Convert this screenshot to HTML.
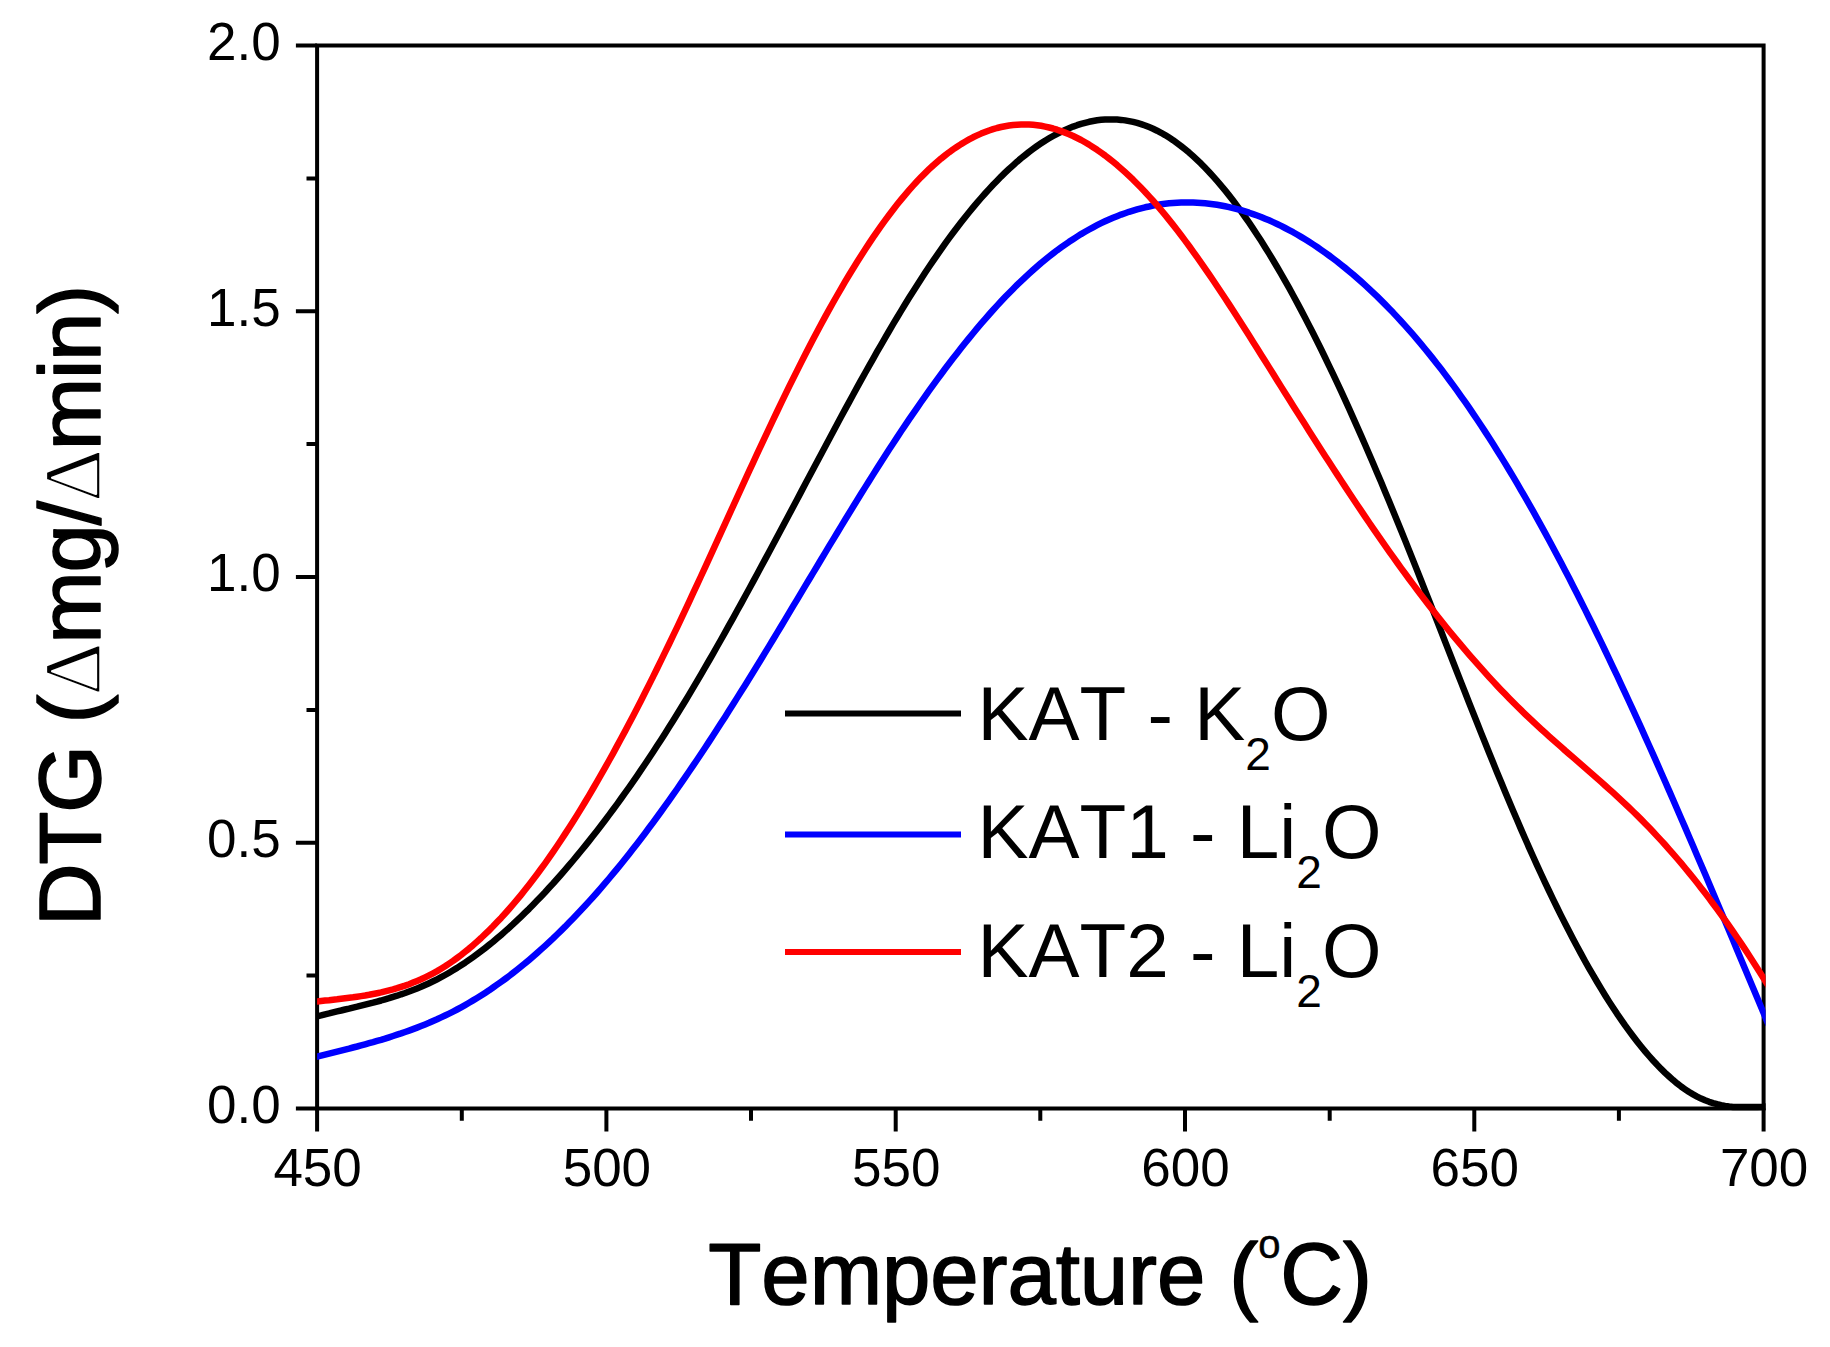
<!DOCTYPE html>
<html lang="en"><head><meta charset="utf-8"><title>DTG vs Temperature</title>
<style>html,body{margin:0;padding:0;background:#fff}body{width:1830px;height:1347px;overflow:hidden}svg{display:block;shape-rendering:geometricPrecision}</style>
</head><body>
<svg width="1830" height="1347" viewBox="0 0 1830 1347">
<rect width="1830" height="1347" fill="#fff"/>
<path d="M317.1 1108.5 V1131.6 M461.8 1108.5 V1120.7 M606.4 1108.5 V1131.6 M751.0 1108.5 V1120.7 M895.7 1108.5 V1131.6 M1040.3 1108.5 V1120.7 M1185.0 1108.5 V1131.6 M1329.7 1108.5 V1120.7 M1474.3 1108.5 V1131.6 M1618.9 1108.5 V1120.7 M1763.6 1108.5 V1131.6 M317.1 1108.5 H295.9 M317.1 975.6 H306.5 M317.1 842.8 H295.9 M317.1 709.9 H306.5 M317.1 577.0 H295.9 M317.1 444.1 H306.5 M317.1 311.2 H295.9 M317.1 178.4 H306.5 M317.1 45.5 H295.9" stroke="#000" stroke-width="4.0" fill="none"/>
<rect x="317.1" y="45.5" width="1446.5" height="1063.0" fill="none" stroke="#000" stroke-width="4.0"/>
<clipPath id="plotclip"><rect x="317.1" y="0" width="1448.5" height="1347"/></clipPath>
<g clip-path="url(#plotclip)">
<path d="M312.1 1017.7 L317.1 1016.4 L321.1 1015.4 L325.1 1014.3 L329.1 1013.4 L333.1 1012.4 L337.1 1011.4 L341.1 1010.5 L345.1 1009.5 L349.1 1008.6 L353.1 1007.6 L357.1 1006.7 L361.1 1005.7 L365.1 1004.7 L369.1 1003.7 L373.1 1002.7 L377.1 1001.6 L381.1 1000.5 L385.1 999.3 L389.1 998.2 L393.1 996.9 L397.1 995.7 L401.1 994.3 L405.1 993.0 L409.1 991.5 L413.1 990.0 L417.1 988.4 L421.1 986.8 L425.1 985.0 L429.1 983.2 L433.1 981.3 L437.1 979.3 L441.1 977.2 L445.1 975.0 L449.1 972.7 L453.1 970.3 L457.1 967.9 L461.1 965.3 L465.1 962.7 L469.1 959.9 L473.1 957.1 L477.1 954.2 L481.1 951.2 L485.1 948.1 L489.1 944.9 L493.1 941.7 L497.1 938.3 L501.1 934.9 L505.1 931.4 L509.1 927.8 L513.1 924.2 L517.1 920.4 L521.1 916.6 L525.1 912.7 L529.1 908.8 L533.1 904.7 L537.1 900.6 L541.1 896.4 L545.1 892.2 L549.1 887.8 L553.1 883.5 L557.1 879.0 L561.1 874.5 L565.1 869.9 L569.1 865.2 L573.1 860.5 L577.1 855.7 L581.1 850.8 L585.1 845.9 L589.1 840.9 L593.1 835.8 L597.1 830.7 L601.1 825.5 L605.1 820.2 L609.1 814.9 L613.1 809.5 L617.1 804.1 L621.1 798.5 L625.1 792.9 L629.1 787.3 L633.1 781.6 L637.1 775.8 L641.1 769.9 L645.1 764.0 L649.1 758.0 L653.1 752.0 L657.1 745.8 L661.1 739.7 L665.1 733.4 L669.1 727.1 L673.1 720.7 L677.1 714.3 L681.1 707.8 L685.1 701.2 L689.1 694.6 L693.1 687.9 L697.1 681.1 L701.1 674.3 L705.1 667.4 L709.1 660.5 L713.1 653.6 L717.1 646.5 L721.1 639.5 L725.1 632.4 L729.1 625.2 L733.1 618.1 L737.1 610.8 L741.1 603.6 L745.1 596.3 L749.1 589.0 L753.1 581.6 L757.1 574.2 L761.1 566.8 L765.1 559.4 L769.1 552.0 L773.1 544.5 L777.1 537.0 L781.1 529.5 L785.1 522.0 L789.1 514.5 L793.1 507.0 L797.1 499.4 L801.1 491.9 L805.1 484.3 L809.1 476.8 L813.1 469.2 L817.1 461.7 L821.1 454.2 L825.1 446.7 L829.1 439.2 L833.1 431.7 L837.1 424.2 L841.1 416.8 L845.1 409.4 L849.1 402.1 L853.1 394.7 L857.1 387.4 L861.1 380.2 L865.1 373.0 L869.1 365.9 L873.1 358.8 L877.1 351.7 L881.1 344.8 L885.1 337.8 L889.1 331.0 L893.1 324.2 L897.1 317.5 L901.1 310.9 L905.1 304.3 L909.1 297.8 L913.1 291.5 L917.1 285.2 L921.1 279.0 L925.1 272.8 L929.1 266.8 L933.1 260.9 L937.1 255.1 L941.1 249.4 L945.1 243.7 L949.1 238.2 L953.1 232.8 L957.1 227.5 L961.1 222.3 L965.1 217.2 L969.1 212.3 L973.1 207.4 L977.1 202.7 L981.1 198.0 L985.1 193.5 L989.1 189.1 L993.1 184.8 L997.1 180.7 L1001.1 176.6 L1005.1 172.7 L1009.1 168.9 L1013.1 165.3 L1017.1 161.7 L1021.1 158.3 L1025.1 155.1 L1029.1 151.9 L1033.1 148.9 L1037.1 146.0 L1041.1 143.3 L1045.1 140.7 L1049.1 138.3 L1053.1 136.0 L1057.1 133.8 L1061.1 131.8 L1065.1 129.9 L1069.1 128.2 L1073.1 126.6 L1077.1 125.2 L1081.1 123.9 L1085.1 122.8 L1089.1 121.8 L1093.1 121.0 L1097.1 120.3 L1101.1 119.8 L1105.1 119.5 L1109.1 119.4 L1113.1 119.4 L1117.1 119.5 L1121.1 119.9 L1125.1 120.4 L1129.1 121.1 L1133.1 121.9 L1137.1 122.9 L1141.1 124.1 L1145.1 125.5 L1149.1 127.1 L1153.1 128.8 L1157.1 130.7 L1161.1 132.8 L1165.1 135.1 L1169.1 137.6 L1173.1 140.2 L1177.1 143.1 L1181.1 146.1 L1185.1 149.3 L1189.1 152.6 L1193.1 156.2 L1197.1 159.9 L1201.1 163.7 L1205.1 167.8 L1209.1 172.0 L1213.1 176.4 L1217.1 180.9 L1221.1 185.6 L1225.1 190.4 L1229.1 195.4 L1233.1 200.6 L1237.1 205.9 L1241.1 211.4 L1245.1 217.0 L1249.1 222.7 L1253.1 228.6 L1257.1 234.7 L1261.1 240.8 L1265.1 247.2 L1269.1 253.6 L1273.1 260.2 L1277.1 267.0 L1281.1 273.8 L1285.1 280.8 L1289.1 287.9 L1293.1 295.2 L1297.1 302.6 L1301.1 310.1 L1305.1 317.7 L1309.1 325.4 L1313.1 333.3 L1317.1 341.2 L1321.1 349.3 L1325.1 357.5 L1329.1 365.8 L1333.1 374.2 L1337.1 382.6 L1341.1 391.2 L1345.1 399.9 L1349.1 408.7 L1353.1 417.6 L1357.1 426.6 L1361.1 435.6 L1365.1 444.7 L1369.1 454.0 L1373.1 463.3 L1377.1 472.7 L1381.1 482.1 L1385.1 491.7 L1389.1 501.3 L1393.1 511.0 L1397.1 520.7 L1401.1 530.5 L1405.1 540.4 L1409.1 550.4 L1413.1 560.4 L1417.1 570.4 L1421.1 580.5 L1425.1 590.6 L1429.1 600.8 L1433.1 610.9 L1437.1 621.1 L1441.1 631.3 L1445.1 641.6 L1449.1 651.8 L1453.1 662.0 L1457.1 672.2 L1461.1 682.4 L1465.1 692.5 L1469.1 702.7 L1473.1 712.8 L1477.1 722.8 L1481.1 732.9 L1485.1 742.8 L1489.1 752.8 L1493.1 762.6 L1497.1 772.4 L1501.1 782.1 L1505.1 791.7 L1509.1 801.3 L1513.1 810.7 L1517.1 820.1 L1521.1 829.4 L1525.1 838.5 L1529.1 847.6 L1533.1 856.5 L1537.1 865.3 L1541.1 874.0 L1545.1 882.6 L1549.1 891.0 L1553.1 899.3 L1557.1 907.5 L1561.1 915.6 L1565.1 923.5 L1569.1 931.3 L1573.1 939.0 L1577.1 946.5 L1581.1 953.9 L1585.1 961.2 L1589.1 968.3 L1593.1 975.2 L1597.1 982.0 L1601.1 988.7 L1605.1 995.2 L1609.1 1001.6 L1613.1 1007.7 L1617.1 1013.8 L1621.1 1019.6 L1625.1 1025.4 L1629.1 1030.9 L1633.1 1036.3 L1637.1 1041.5 L1641.1 1046.5 L1645.1 1051.3 L1649.1 1056.0 L1653.1 1060.5 L1657.1 1064.8 L1661.1 1068.9 L1665.1 1072.8 L1669.1 1076.5 L1673.1 1080.1 L1677.1 1083.4 L1681.1 1086.5 L1685.1 1089.3 L1689.1 1092.0 L1693.1 1094.4 L1697.1 1096.6 L1701.1 1098.6 L1705.1 1100.3 L1709.1 1101.8 L1713.1 1103.1 L1717.1 1104.2 L1721.1 1105.2 L1725.1 1105.9 L1729.1 1106.5 L1733.1 1106.9 L1737.1 1107.0 L1741.1 1107.0 L1745.1 1107.0 L1749.1 1107.0 L1753.1 1107.0 L1757.1 1107.0 L1763.6 1106.8 L1768.6 1106.4" fill="none" stroke="#000" stroke-width="6.5" stroke-linejoin="round"/>
<path d="M312.1 1057.8 L317.1 1056.6 L321.1 1055.6 L325.1 1054.6 L329.1 1053.6 L333.1 1052.6 L337.1 1051.6 L341.1 1050.6 L345.1 1049.6 L349.1 1048.6 L353.1 1047.5 L357.1 1046.5 L361.1 1045.4 L365.1 1044.3 L369.1 1043.2 L373.1 1042.1 L377.1 1040.9 L381.1 1039.8 L385.1 1038.6 L389.1 1037.3 L393.1 1036.0 L397.1 1034.7 L401.1 1033.4 L405.1 1032.0 L409.1 1030.6 L413.1 1029.1 L417.1 1027.6 L421.1 1026.0 L425.1 1024.4 L429.1 1022.8 L433.1 1021.0 L437.1 1019.3 L441.1 1017.4 L445.1 1015.5 L449.1 1013.6 L453.1 1011.6 L457.1 1009.5 L461.1 1007.3 L465.1 1005.1 L469.1 1002.8 L473.1 1000.4 L477.1 998.0 L481.1 995.5 L485.1 992.9 L489.1 990.3 L493.1 987.5 L497.1 984.7 L501.1 981.9 L505.1 979.0 L509.1 976.0 L513.1 972.9 L517.1 969.7 L521.1 966.5 L525.1 963.3 L529.1 959.9 L533.1 956.5 L537.1 953.0 L541.1 949.4 L545.1 945.8 L549.1 942.1 L553.1 938.4 L557.1 934.5 L561.1 930.6 L565.1 926.7 L569.1 922.6 L573.1 918.5 L577.1 914.3 L581.1 910.1 L585.1 905.8 L589.1 901.4 L593.1 897.0 L597.1 892.5 L601.1 887.9 L605.1 883.2 L609.1 878.5 L613.1 873.7 L617.1 868.9 L621.1 864.0 L625.1 859.0 L629.1 853.9 L633.1 848.8 L637.1 843.7 L641.1 838.5 L645.1 833.2 L649.1 827.8 L653.1 822.5 L657.1 817.0 L661.1 811.5 L665.1 805.9 L669.1 800.3 L673.1 794.7 L677.1 789.0 L681.1 783.2 L685.1 777.4 L689.1 771.5 L693.1 765.6 L697.1 759.7 L701.1 753.7 L705.1 747.7 L709.1 741.6 L713.1 735.5 L717.1 729.3 L721.1 723.1 L725.1 716.9 L729.1 710.6 L733.1 704.3 L737.1 697.9 L741.1 691.6 L745.1 685.2 L749.1 678.7 L753.1 672.2 L757.1 665.7 L761.1 659.2 L765.1 652.6 L769.1 646.1 L773.1 639.5 L777.1 632.8 L781.1 626.2 L785.1 619.6 L789.1 612.9 L793.1 606.2 L797.1 599.6 L801.1 592.9 L805.1 586.2 L809.1 579.5 L813.1 572.8 L817.1 566.2 L821.1 559.5 L825.1 552.9 L829.1 546.2 L833.1 539.6 L837.1 533.0 L841.1 526.4 L845.1 519.8 L849.1 513.3 L853.1 506.7 L857.1 500.3 L861.1 493.8 L865.1 487.4 L869.1 481.0 L873.1 474.6 L877.1 468.3 L881.1 462.0 L885.1 455.8 L889.1 449.6 L893.1 443.5 L897.1 437.4 L901.1 431.3 L905.1 425.4 L909.1 419.4 L913.1 413.6 L917.1 407.8 L921.1 402.0 L925.1 396.3 L929.1 390.7 L933.1 385.1 L937.1 379.6 L941.1 374.2 L945.1 368.8 L949.1 363.5 L953.1 358.3 L957.1 353.2 L961.1 348.1 L965.1 343.0 L969.1 338.1 L973.1 333.2 L977.1 328.4 L981.1 323.7 L985.1 319.1 L989.1 314.5 L993.1 310.0 L997.1 305.6 L1001.1 301.3 L1005.1 297.1 L1009.1 293.0 L1013.1 288.9 L1017.1 284.9 L1021.1 281.1 L1025.1 277.3 L1029.1 273.6 L1033.1 270.0 L1037.1 266.5 L1041.1 263.0 L1045.1 259.7 L1049.1 256.5 L1053.1 253.4 L1057.1 250.3 L1061.1 247.4 L1065.1 244.6 L1069.1 241.8 L1073.1 239.2 L1077.1 236.6 L1081.1 234.1 L1085.1 231.8 L1089.1 229.5 L1093.1 227.3 L1097.1 225.2 L1101.1 223.2 L1105.1 221.3 L1109.1 219.5 L1113.1 217.8 L1117.1 216.2 L1121.1 214.6 L1125.1 213.2 L1129.1 211.8 L1133.1 210.6 L1137.1 209.4 L1141.1 208.3 L1145.1 207.3 L1149.1 206.5 L1153.1 205.6 L1157.1 204.9 L1161.1 204.3 L1165.1 203.8 L1169.1 203.3 L1173.1 203.0 L1177.1 202.7 L1181.1 202.5 L1185.1 202.4 L1189.1 202.4 L1193.1 202.5 L1197.1 202.7 L1201.1 202.9 L1205.1 203.3 L1209.1 203.7 L1213.1 204.2 L1217.1 204.8 L1221.1 205.5 L1225.1 206.3 L1229.1 207.1 L1233.1 208.1 L1237.1 209.1 L1241.1 210.2 L1245.1 211.4 L1249.1 212.7 L1253.1 214.1 L1257.1 215.5 L1261.1 217.0 L1265.1 218.7 L1269.1 220.3 L1273.1 222.1 L1277.1 224.0 L1281.1 225.9 L1285.1 228.0 L1289.1 230.1 L1293.1 232.2 L1297.1 234.5 L1301.1 236.9 L1305.1 239.3 L1309.1 241.8 L1313.1 244.4 L1317.1 247.0 L1321.1 249.8 L1325.1 252.6 L1329.1 255.5 L1333.1 258.5 L1337.1 261.5 L1341.1 264.7 L1345.1 267.9 L1349.1 271.2 L1353.1 274.5 L1357.1 278.0 L1361.1 281.5 L1365.1 285.1 L1369.1 288.8 L1373.1 292.6 L1377.1 296.4 L1381.1 300.4 L1385.1 304.4 L1389.1 308.5 L1393.1 312.6 L1397.1 316.9 L1401.1 321.2 L1405.1 325.6 L1409.1 330.2 L1413.1 334.7 L1417.1 339.4 L1421.1 344.1 L1425.1 349.0 L1429.1 353.9 L1433.1 358.9 L1437.1 364.0 L1441.1 369.1 L1445.1 374.4 L1449.1 379.7 L1453.1 385.2 L1457.1 390.7 L1461.1 396.3 L1465.1 401.9 L1469.1 407.7 L1473.1 413.6 L1477.1 419.5 L1481.1 425.5 L1485.1 431.6 L1489.1 437.8 L1493.1 444.1 L1497.1 450.4 L1501.1 456.9 L1505.1 463.4 L1509.1 470.0 L1513.1 476.7 L1517.1 483.4 L1521.1 490.3 L1525.1 497.2 L1529.1 504.2 L1533.1 511.2 L1537.1 518.4 L1541.1 525.6 L1545.1 532.9 L1549.1 540.3 L1553.1 547.7 L1557.1 555.2 L1561.1 562.8 L1565.1 570.4 L1569.1 578.1 L1573.1 585.9 L1577.1 593.7 L1581.1 601.7 L1585.1 609.6 L1589.1 617.7 L1593.1 625.8 L1597.1 634.0 L1601.1 642.2 L1605.1 650.5 L1609.1 658.8 L1613.1 667.3 L1617.1 675.7 L1621.1 684.3 L1625.1 692.9 L1629.1 701.5 L1633.1 710.2 L1637.1 718.9 L1641.1 727.7 L1645.1 736.6 L1649.1 745.5 L1653.1 754.4 L1657.1 763.4 L1661.1 772.5 L1665.1 781.5 L1669.1 790.6 L1673.1 799.8 L1677.1 809.0 L1681.1 818.2 L1685.1 827.4 L1689.1 836.7 L1693.1 846.0 L1697.1 855.4 L1701.1 864.7 L1705.1 874.1 L1709.1 883.5 L1713.1 892.9 L1717.1 902.4 L1721.1 911.9 L1725.1 921.3 L1729.1 930.8 L1733.1 940.3 L1737.1 949.9 L1741.1 959.4 L1745.1 968.9 L1749.1 978.5 L1753.1 988.0 L1757.1 997.6 L1763.6 1013.1 L1768.6 1025.0" fill="none" stroke="#0000ff" stroke-width="6.5" stroke-linejoin="round"/>
<path d="M312.1 1002.0 L317.1 1001.5 L321.1 1001.0 L325.1 1000.6 L329.1 1000.2 L333.1 999.7 L337.1 999.3 L341.1 998.8 L345.1 998.3 L349.1 997.8 L353.1 997.3 L357.1 996.7 L361.1 996.1 L365.1 995.5 L369.1 994.8 L373.1 994.0 L377.1 993.2 L381.1 992.4 L385.1 991.4 L389.1 990.4 L393.1 989.4 L397.1 988.2 L401.1 986.9 L405.1 985.6 L409.1 984.2 L413.1 982.6 L417.1 981.0 L421.1 979.3 L425.1 977.4 L429.1 975.4 L433.1 973.3 L437.1 971.1 L441.1 968.7 L445.1 966.3 L449.1 963.6 L453.1 960.9 L457.1 958.0 L461.1 955.0 L465.1 951.8 L469.1 948.6 L473.1 945.2 L477.1 941.6 L481.1 938.0 L485.1 934.2 L489.1 930.3 L493.1 926.3 L497.1 922.1 L501.1 917.9 L505.1 913.5 L509.1 909.0 L513.1 904.4 L517.1 899.6 L521.1 894.8 L525.1 889.8 L529.1 884.7 L533.1 879.5 L537.1 874.2 L541.1 868.8 L545.1 863.3 L549.1 857.6 L553.1 851.8 L557.1 846.0 L561.1 840.0 L565.1 833.9 L569.1 827.7 L573.1 821.5 L577.1 815.1 L581.1 808.6 L585.1 802.0 L589.1 795.3 L593.1 788.5 L597.1 781.6 L601.1 774.7 L605.1 767.6 L609.1 760.5 L613.1 753.3 L617.1 745.9 L621.1 738.5 L625.1 731.1 L629.1 723.5 L633.1 715.9 L637.1 708.2 L641.1 700.4 L645.1 692.5 L649.1 684.6 L653.1 676.6 L657.1 668.5 L661.1 660.4 L665.1 652.2 L669.1 644.0 L673.1 635.7 L677.1 627.3 L681.1 618.8 L685.1 610.4 L689.1 601.8 L693.1 593.2 L697.1 584.6 L701.1 576.0 L705.1 567.3 L709.1 558.6 L713.1 549.9 L717.1 541.1 L721.1 532.4 L725.1 523.6 L729.1 514.8 L733.1 506.1 L737.1 497.3 L741.1 488.6 L745.1 479.9 L749.1 471.2 L753.1 462.6 L757.1 453.9 L761.1 445.3 L765.1 436.8 L769.1 428.3 L773.1 419.9 L777.1 411.5 L781.1 403.1 L785.1 394.9 L789.1 386.7 L793.1 378.6 L797.1 370.6 L801.1 362.6 L805.1 354.8 L809.1 347.0 L813.1 339.3 L817.1 331.8 L821.1 324.3 L825.1 316.9 L829.1 309.7 L833.1 302.5 L837.1 295.5 L841.1 288.6 L845.1 281.7 L849.1 275.0 L853.1 268.5 L857.1 262.0 L861.1 255.7 L865.1 249.5 L869.1 243.4 L873.1 237.4 L877.1 231.6 L881.1 225.9 L885.1 220.4 L889.1 215.0 L893.1 209.7 L897.1 204.6 L901.1 199.6 L905.1 194.8 L909.1 190.2 L913.1 185.7 L917.1 181.3 L921.1 177.1 L925.1 173.1 L929.1 169.2 L933.1 165.5 L937.1 162.0 L941.1 158.6 L945.1 155.4 L949.1 152.3 L953.1 149.4 L957.1 146.7 L961.1 144.1 L965.1 141.7 L969.1 139.4 L973.1 137.3 L977.1 135.4 L981.1 133.6 L985.1 132.0 L989.1 130.5 L993.1 129.2 L997.1 128.0 L1001.1 127.0 L1005.1 126.2 L1009.1 125.5 L1013.1 125.0 L1017.1 124.7 L1021.1 124.5 L1025.1 124.4 L1029.1 124.5 L1033.1 124.8 L1037.1 125.2 L1041.1 125.8 L1045.1 126.6 L1049.1 127.5 L1053.1 128.5 L1057.1 129.7 L1061.1 131.1 L1065.1 132.6 L1069.1 134.2 L1073.1 136.0 L1077.1 138.0 L1081.1 140.0 L1085.1 142.3 L1089.1 144.6 L1093.1 147.2 L1097.1 149.8 L1101.1 152.6 L1105.1 155.5 L1109.1 158.6 L1113.1 161.8 L1117.1 165.1 L1121.1 168.6 L1125.1 172.2 L1129.1 175.9 L1133.1 179.7 L1137.1 183.7 L1141.1 187.8 L1145.1 192.0 L1149.1 196.4 L1153.1 200.8 L1157.1 205.4 L1161.1 210.1 L1165.1 214.9 L1169.1 219.9 L1173.1 224.9 L1177.1 230.0 L1181.1 235.3 L1185.1 240.6 L1189.1 246.0 L1193.1 251.6 L1197.1 257.2 L1201.1 262.8 L1205.1 268.6 L1209.1 274.4 L1213.1 280.3 L1217.1 286.3 L1221.1 292.3 L1225.1 298.3 L1229.1 304.4 L1233.1 310.6 L1237.1 316.8 L1241.1 323.0 L1245.1 329.3 L1249.1 335.6 L1253.1 341.9 L1257.1 348.3 L1261.1 354.7 L1265.1 361.0 L1269.1 367.4 L1273.1 373.8 L1277.1 380.2 L1281.1 386.6 L1285.1 392.9 L1289.1 399.3 L1293.1 405.7 L1297.1 412.0 L1301.1 418.3 L1305.1 424.6 L1309.1 430.9 L1313.1 437.2 L1317.1 443.5 L1321.1 449.7 L1325.1 455.9 L1329.1 462.1 L1333.1 468.3 L1337.1 474.4 L1341.1 480.5 L1345.1 486.6 L1349.1 492.7 L1353.1 498.7 L1357.1 504.7 L1361.1 510.6 L1365.1 516.6 L1369.1 522.5 L1373.1 528.3 L1377.1 534.1 L1381.1 539.9 L1385.1 545.6 L1389.1 551.3 L1393.1 556.9 L1397.1 562.5 L1401.1 568.1 L1405.1 573.5 L1409.1 579.0 L1413.1 584.4 L1417.1 589.7 L1421.1 595.0 L1425.1 600.3 L1429.1 605.5 L1433.1 610.6 L1437.1 615.7 L1441.1 620.8 L1445.1 625.7 L1449.1 630.7 L1453.1 635.6 L1457.1 640.4 L1461.1 645.2 L1465.1 649.9 L1469.1 654.6 L1473.1 659.2 L1477.1 663.7 L1481.1 668.2 L1485.1 672.7 L1489.1 677.1 L1493.1 681.4 L1497.1 685.7 L1501.1 689.9 L1505.1 694.1 L1509.1 698.2 L1513.1 702.3 L1517.1 706.3 L1521.1 710.2 L1525.1 714.1 L1529.1 717.9 L1533.1 721.7 L1537.1 725.4 L1541.1 729.1 L1545.1 732.7 L1549.1 736.3 L1553.1 739.9 L1557.1 743.4 L1561.1 746.9 L1565.1 750.5 L1569.1 753.9 L1573.1 757.4 L1577.1 760.9 L1581.1 764.4 L1585.1 767.9 L1589.1 771.4 L1593.1 774.9 L1597.1 778.4 L1601.1 781.9 L1605.1 785.5 L1609.1 789.1 L1613.1 792.7 L1617.1 796.4 L1621.1 800.1 L1625.1 803.8 L1629.1 807.7 L1633.1 811.5 L1637.1 815.4 L1641.1 819.4 L1645.1 823.5 L1649.1 827.6 L1653.1 831.8 L1657.1 836.1 L1661.1 840.4 L1665.1 844.8 L1669.1 849.3 L1673.1 853.8 L1677.1 858.5 L1681.1 863.2 L1685.1 868.0 L1689.1 872.8 L1693.1 877.8 L1697.1 882.8 L1701.1 887.9 L1705.1 893.1 L1709.1 898.3 L1713.1 903.7 L1717.1 909.1 L1721.1 914.6 L1725.1 920.2 L1729.1 925.9 L1733.1 931.6 L1737.1 937.5 L1741.1 943.4 L1745.1 949.4 L1749.1 955.5 L1753.1 961.7 L1757.1 968.0 L1763.6 978.4 L1768.6 986.4" fill="none" stroke="#ff0000" stroke-width="6.5" stroke-linejoin="round"/>
</g>
<g font-family="'Liberation Sans', Arial, sans-serif" font-size="53" fill="#000" style="font-kerning:none">
<text x="317.6" y="1186" text-anchor="middle">450</text>
<text x="606.9" y="1186" text-anchor="middle">500</text>
<text x="896.2" y="1186" text-anchor="middle">550</text>
<text x="1185.5" y="1186" text-anchor="middle">600</text>
<text x="1474.8" y="1186" text-anchor="middle">650</text>
<text x="1764.1" y="1186" text-anchor="middle">700</text>
<text x="280.7" y="1122.8" text-anchor="end">0.0</text>
<text x="280.7" y="857.0" text-anchor="end">0.5</text>
<text x="280.7" y="591.3" text-anchor="end">1.0</text>
<text x="280.7" y="325.6" text-anchor="end">1.5</text>
<text x="280.7" y="59.8" text-anchor="end">2.0</text>
</g>
<g font-family="'Liberation Sans', Arial, sans-serif" font-size="87" fill="#000" stroke="#000" stroke-width="1.5" stroke-linejoin="round" style="font-kerning:none" letter-spacing="-0.30">
<text x="708.3" y="1304.3" letter-spacing="-0.1">Temperature (<tspan font-size="40" dy="-46" stroke-width="0.5">o</tspan><tspan dy="46">C)</tspan></text>
<text transform="translate(99.6 926.3) rotate(-90)" letter-spacing="-1.25">DTG (<tspan font-family="'Liberation Serif', 'DejaVu Serif', serif" font-size="83" stroke="#fff" stroke-width="2.2">Δ</tspan>mg/<tspan font-family="'Liberation Serif', 'DejaVu Serif', serif" font-size="83" stroke="#fff" stroke-width="2.2">Δ</tspan>min)</text>
</g>
<g font-family="'Liberation Sans', Arial, sans-serif" font-size="76.5" fill="#000" style="font-kerning:none">
<path d="M785 713.5 H961" stroke="#000" stroke-width="6" fill="none"/>
<text x="977.5" y="739.8">KAT - K<tspan font-size="46" dy="30">2</tspan><tspan dy="-30">O</tspan></text>
<path d="M785 834.5 H961" stroke="#0000ff" stroke-width="6" fill="none"/>
<text x="977.5" y="858.1">KAT1 - Li<tspan font-size="46" dy="30">2</tspan><tspan dy="-30">O</tspan></text>
<path d="M785 952.0 H961" stroke="#ff0000" stroke-width="6" fill="none"/>
<text x="977.5" y="977.2">KAT2 - Li<tspan font-size="46" dy="30">2</tspan><tspan dy="-30">O</tspan></text>
</g>
</svg>
</body></html>
